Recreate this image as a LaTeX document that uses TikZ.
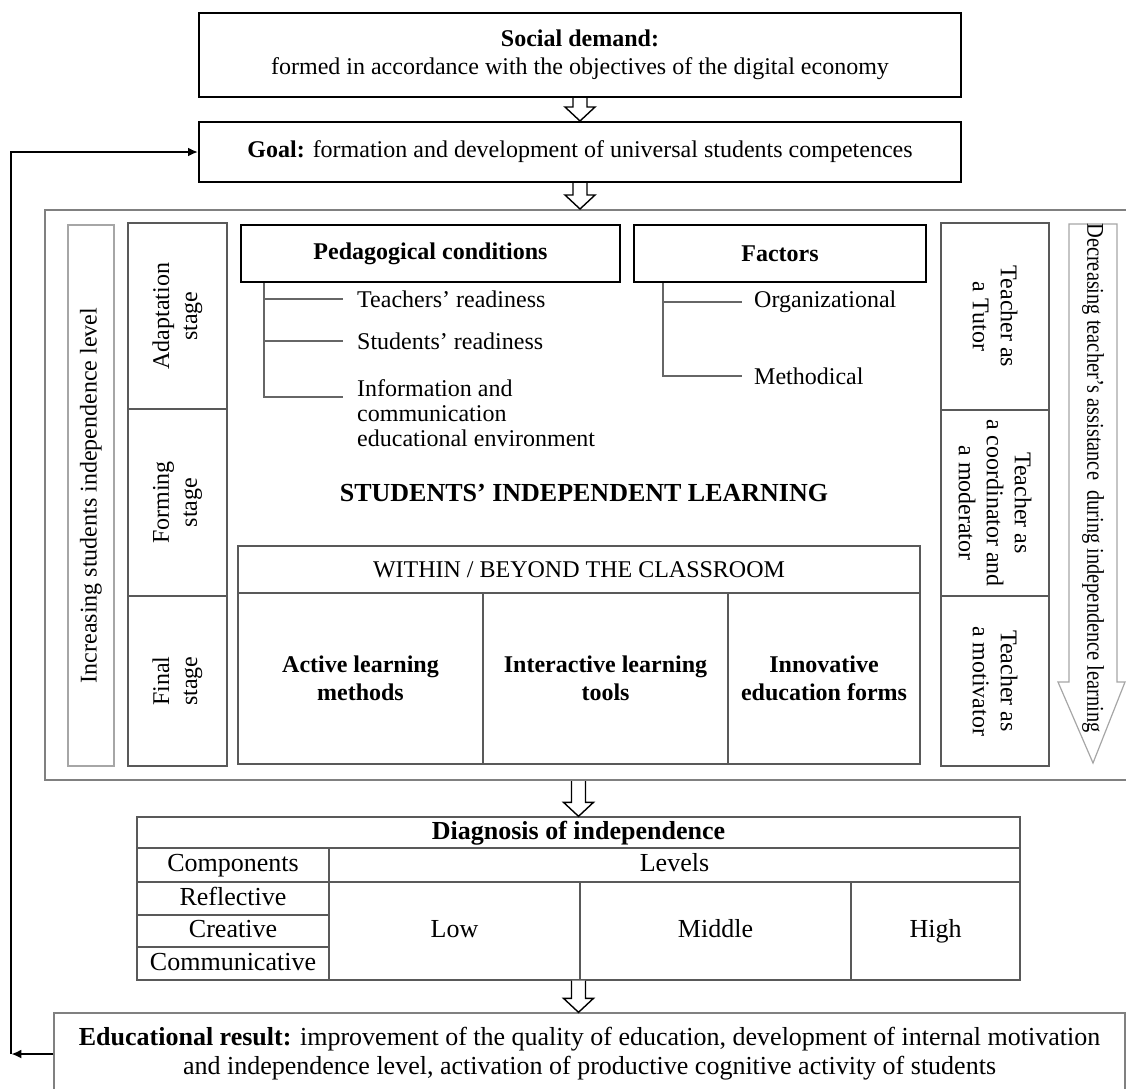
\documentclass[tikz,border=0pt]{standalone}
\usepackage{fontspec}
\setmainfont{Liberation Serif}
\usetikzlibrary{positioning,arrows.meta,calc}
\newcommand{\mainfs}{\fontsize{24}{28}\selectfont}
\newcommand{\tabfs}{\fontsize{26}{29}\selectfont}
% hollow block arrow between two points on one vertical
\newcommand{\hollowdown}[2]{%
  \draw[hollow] let \p1=#1, \p2=#2 in
    (\x1-7pt,\y1) -- (\x1-7pt,\y2+14pt) -- (\x1-15pt,\y2+14pt) -- (\x1,\y2)
    -- (\x1+15pt,\y2+14pt) -- (\x1+7pt,\y2+14pt) -- (\x1+7pt,\y1);}

\begin{document}
\begin{tikzpicture}[x=1pt,y=-1pt,>={Latex[length=10pt,width=9pt]},
  every node/.style={font=\mainfs},
  sz/.style 2 args={minimum width=#1pt,minimum height=#2pt},
  topbox/.style={draw,line width=2pt,align=center,inner sep=0pt},
  cell/.style={draw=black!65,line width=1.4pt,align=center,inner sep=0pt},
  tcell/.style={cell,font=\tabfs,text height=18pt,text depth=5pt},
  tree/.style={draw=black!60,line width=1.4pt},
  hollow/.style={draw,line width=1.4pt,fill=white},
  lbl/.style={align=left,anchor=west,inner sep=0pt}]
\useasboundingbox (0,0) rectangle (1126,1088);
\clip (0,0) rectangle (1126,1088);

% demand and goal
\node[topbox,sz={762}{84}] (social) at (580,55)
  {\textbf{Social demand:}\\formed in accordance with the objectives of the digital economy};
\node[topbox,sz={762}{60}] (goal) at (580,152)
  {\textbf{Goal:} formation and development of universal students competences};

% main block
\node[draw=black!50,line width=2pt,sz={1090}{570}] (outer) at (590,495) {};
\node[draw=black!35,line width=1.2pt,sz={541}{46},rotate=90] (incr) at (91,495.5)
  {Increasing students independence level};
\node[cell,sz={186}{99},rotate=90] (adapt) at (177.5,316) {Adaptation\\stage};
\node[cell,sz={187}{99},rotate=90] (forming) at (177.5,502.5) {Forming\\stage};
\node[cell,sz={170}{99},rotate=90] (final) at (177.5,681) {Final\\stage};

\node[topbox,sz={379}{57}] (ped) at (430.5,253.5) {\textbf{Pedagogical conditions}};
\node[topbox,sz={292}{57}] (fac) at (780,253.5) {\textbf{Factors}};

\node[lbl] (t1) at (357,299) {Teachers’ readiness};
\node[lbl] (t2) at (357,341) {Students’ readiness};
\node[lbl,font=\fontsize{24}{25}\selectfont] (t3) at (357,413)
  {Information and\\communication\\educational environment};
\node[lbl] (f1) at (754,302) {Organizational};
\node[lbl] (f2) at (754,376) {Methodical};
\coordinate (ptop) at ([xshift=24pt]ped.south west);
\coordinate (ftop) at ([xshift=30pt]fac.south west);
\foreach \t in {t1,t2}
  \draw[tree,shorten >=14pt] (ptop) |- (\t.west);
\draw[tree,shorten >=14pt] (ptop) |- ([yshift=16pt]t3.west);
\foreach \t in {f1,f2}
  \draw[tree,shorten >=12pt] (ftop) |- (\t.west);

\node[font=\fontsize{26}{30}\selectfont\bfseries] (sil) at (584,493)
  {STUDENTS’ INDEPENDENT LEARNING};

\node[cell,sz={682}{47}] (within) at (579,569.5) {WITHIN / BEYOND THE CLASSROOM};
\node[cell,sz={245}{171},font=\mainfs\bfseries] (active) at (360.5,678.5)
  {Active learning\\methods};
\node[cell,sz={245}{171},font=\mainfs\bfseries] (inter) at (605.5,678.5)
  {Interactive learning\\tools};
\node[cell,sz={192}{171},font=\mainfs\bfseries] (innov) at (824,678.5)
  {Innovative\\education forms};

\node[cell,sz={187}{108},rotate=-90] (tutor) at (995,316.5) {Teacher as\\a Tutor};
\node[cell,sz={186}{108},rotate=-90] (coord) at (995,503)
  {Teacher as\\a coordinator and\\a moderator};
\node[cell,sz={170}{108},rotate=-90] (motiv) at (995,681) {Teacher as\\a motivator};

\draw[black!35,line width=1.2pt] (1069,224) -- (1117,224) -- (1117,682) -- (1125,682)
  -- (1093,763) -- (1058,682) -- (1069,682) -- cycle;
\node[rotate=-90] (decr) at (1093,478)
  {\scalebox{0.85}[1]{Decreasing teacher’s assistance\ \ during independence learning}};

% diagnosis table
\node[tcell,sz={883}{31},font=\tabfs\bfseries] (diag) at (578.5,832.5)
  {Diagnosis of independence};
\node[tcell,sz={192}{34}] (comp) at (233,865) {Components};
\node[tcell,sz={691}{34}] (levels) at (674.5,865) {Levels};
\node[tcell,sz={192}{33}] (refl) at (233,898.5) {Reflective};
\node[tcell,sz={192}{32}] (crea) at (233,931) {Creative};
\node[tcell,sz={192}{33}] (comm) at (233,963.5) {Communicative};
\node[tcell,sz={251}{98}] (low) at (454.5,931) {Low};
\node[tcell,sz={271}{98}] (mid) at (715.5,931) {Middle};
\node[tcell,sz={169}{98}] (high) at (935.5,931) {High};

% result
\node[draw=black!50,line width=1.4pt,align=center,font=\tabfs,sz={1071}{82}] (edu) at (589.5,1054)
  {\textbf{Educational result:} improvement of the quality of education, development of internal motivation\\
   and independence level, activation of productive cognitive activity of students};

\hollowdown{(social.south)}{(goal.north)}
\hollowdown{(goal.south)}{(goal.south |- outer.north)}
\hollowdown{(diag.north |- outer.south)}{(diag.north)}
\hollowdown{(diag.south |- comm.south)}{(diag.south |- edu.north)}

\path (edu.west) ++(-42,0) coordinate (fb);
\draw[->,line width=2pt] (edu.west) -- (fb);
\draw[->,line width=2pt] (fb) |- (goal.west);
\end{tikzpicture}
\end{document}
